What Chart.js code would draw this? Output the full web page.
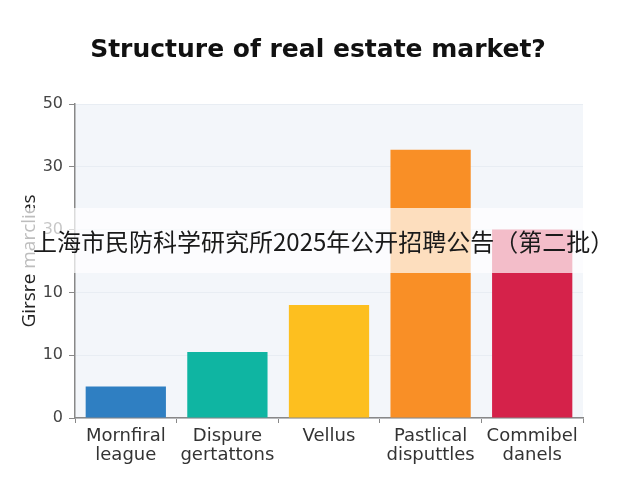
<!DOCTYPE html>
<html>
<head>
<meta charset="utf-8">
<script src="https://cdn.jsdelivr.net/npm/chart.js@4"></script>
<style>
  html, body { margin: 0; padding: 0; background: #fff; }
  #wrap { width: 640px; height: 480px; }
</style>
</head>
<body>
<div id="wrap"><canvas id="chart" width="640" height="480"></canvas></div>
<script>
// chart data
const categories = [
  ['Mornfiral', 'league'],
  ['Dispure', 'gertattons'],
  ['Vellus'],
  ['Pastlical', 'disputtles'],
  ['Commibel', 'danels'],
];
const values = [5, 10.5, 18, 42.7, 30];
const barColors = ['#2f7fc2', '#0fb5a2', '#fdbf1f', '#f98f26', '#d5224a'];
// the reference prints these labels at the 0..50 gridlines
const yTickLabels = ['0', '10', '10', '30', '30', '50'];
const titleText = 'Structure of real estate market?';
const bannerText = '上海市民防科学研究所2025年公开招聘公告（第二批）';

// light panel behind the bars
const panelBg = {
  id: 'panelBg',
  beforeDraw(chart) {
    const { ctx, chartArea: a } = chart;
    ctx.save();
    ctx.fillStyle = '#f3f6fa';
    ctx.fillRect(a.left, a.top, a.right - a.left, a.bottom - a.top);
    ctx.restore();
  },
};

// title sits centred on the page, not on the chart box
const pageTitle = {
  id: 'pageTitle',
  afterDraw(chart) {
    const { ctx } = chart;
    ctx.save();
    ctx.fillStyle = '#111';
    ctx.font = 'bold 25px "DejaVu Sans", sans-serif';
    ctx.textAlign = 'center';
    ctx.textBaseline = 'middle';
    ctx.fillText(titleText, 318, 50);
    ctx.restore();
  },
};

// semi-transparent strip with the headline across the middle
const banner = {
  id: 'banner',
  afterDraw(chart) {
    const { ctx, width } = chart;
    ctx.save();
    ctx.fillStyle = 'rgba(255,255,255,0.7)';
    ctx.fillRect(0, 208, width, 65);
    ctx.fillStyle = '#1a1a1a';
    ctx.font = '24px "Noto Sans CJK SC", sans-serif';
    ctx.textBaseline = 'middle';
    ctx.fillText(bannerText, 33, 242);
    ctx.restore();
  },
};

new Chart(document.getElementById('chart'), {
  type: 'bar',
  data: {
    labels: categories,
    datasets: [{
      data: values,
      backgroundColor: barColors,
      borderWidth: 0,
      barPercentage: 0.79,
      categoryPercentage: 1,
    }],
  },
  options: {
    responsive: false,
    animation: false,
    layout: { padding: { left: 0, right: 57, top: 104, bottom: 0 } },
    plugins: {
      legend: { display: false },
      tooltip: { enabled: false },
    },
    scales: {
      x: {
        border: { color: '#888', width: 1.5 },
        grid: { drawOnChartArea: false, tickLength: 5, tickColor: '#888' },
        ticks: {
          color: '#333',
          padding: 4,
          font: { family: '"DejaVu Sans", sans-serif', size: 18, lineHeight: 1.05 },
          maxRotation: 0,
        },
        afterFit(scale) { scale.height = 62; },
      },
      y: {
        min: 0,
        max: 50,
        border: { color: '#888', width: 1.5 },
        grid: { color: '#e8edf3', tickLength: 6, tickColor: '#888' },
        ticks: {
          stepSize: 10,
          color: '#444',
          padding: 6,
          font: { family: '"DejaVu Sans", sans-serif', size: 16 },
          callback: (v, i) => yTickLabels[i],
        },
        title: {
          display: true,
          text: 'Girsre marclies',
          color: '#222',
          padding: { top: 18, bottom: 0 },
          font: { family: '"Open Sans", sans-serif', size: 19 },
        },
        afterFit(scale) { scale.width = 75; },
      },
    },
  },
  plugins: [panelBg, pageTitle, banner],
});
</script>
</body>
</html>
